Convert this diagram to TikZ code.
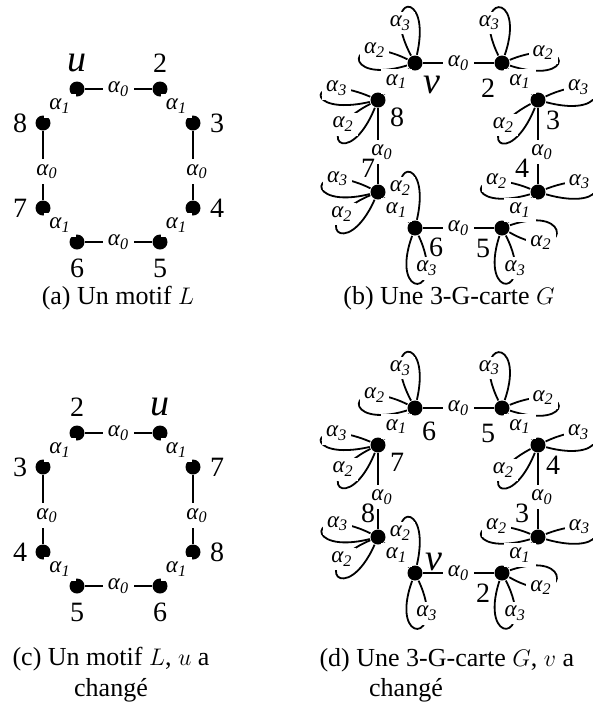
\documentclass[tikz,border=0pt]{standalone}
\usepackage{amsmath}
\usepackage{fontspec}
\setmainfont{Liberation Serif}

\newcommand\alp[1]{$\textit{α}_{\textit{#1}}$}
% boucle d'une involution sur un brin : (brin){depart}{retour}{indice}
\newcommand\boucle[4]{\draw (#1) .. controls +(#2:78) and +(#3:78) .. (#1) node[lblb, pos=.78] {\alp{#4}};}

\tikzset{
    dot/.style={circle, fill, inner sep=0pt, minimum size=7.5pt},
    lbl/.style={fill=white, inner sep=2.5pt, font=\fontsize{11.5}{13}\selectfont},
    lblb/.style={lbl, inner sep=2pt},
    vlbl/.style={xshift=2pt, yshift=-3pt},
    num/.style={inner sep=0pt, font=\fontsize{14}{16}\selectfont},
    nom/.style={inner sep=0pt, font=\fontsize{19}{21}\selectfont\itshape},
    legende/.style={align=center, font=\fontsize{13}{15.5}\selectfont}
}

\begin{document}
\begin{tikzpicture}[x=0.5pt, y=0.5pt, line width=0.9pt]
    \useasboundingbox (0,0) rectangle (593,-714);

    % motifs (a) et (c)
    \foreach \p/\dy in {a/0, c/-344} {
        \begin{scope}[shift={(0,\dy)}]
            \node[dot] (\p1) at (77,-89) {};
            \node[dot] (\p2) at (160,-89) {};
            \node[dot] (\p3) at (193,-123) {};
            \node[dot] (\p4) at (193,-208) {};
            \node[dot] (\p5) at (160,-242) {};
            \node[dot] (\p6) at (77,-242) {};
            \node[dot] (\p7) at (43,-208) {};
            \node[dot] (\p8) at (43,-123) {};
        \end{scope}
        \draw (\p1) -- node[lbl] {\alp0} (\p2);
        \draw (\p2) -- node[lbl] {\alp1} (\p3);
        \draw (\p3) -- node[lbl, vlbl] {\alp0} (\p4);
        \draw (\p4) -- node[lbl] {\alp1} (\p5);
        \draw (\p5) -- node[lbl] {\alp0} (\p6);
        \draw (\p6) -- node[lbl] {\alp1} (\p7);
        \draw (\p7) -- node[lbl, vlbl] {\alp0} (\p8);
        \draw (\p8) -- node[lbl] {\alp1} (\p1);
    }

    % 3-G-cartes (b) et (d)
    \foreach \g/\dy in {b/0, d/-345} {
        \begin{scope}[shift={(0,\dy)}]
            \node[dot] (\g1) at (415,-63) {};
            \node[dot] (\g2) at (502,-63) {};
            \node[dot] (\g3) at (538,-100) {};
            \node[dot] (\g4) at (538,-192) {};
            \node[dot] (\g5) at (502,-228) {};
            \node[dot] (\g6) at (415,-228) {};
            \node[dot] (\g7) at (378,-192) {};
            \node[dot] (\g8) at (378,-100) {};
        \end{scope}
        \boucle{\g1}{77}{118}{3}
        \boucle{\g1}{197}{154}{2}
        \boucle{\g2}{71}{116}{3}
        \boucle{\g2}{-18}{22}{2}
        \boucle{\g3}{-15}{25}{3}
        \boucle{\g3}{248}{208}{2}
        \boucle{\g4}{196}{158}{2}
        \boucle{\g4}{-16}{21}{3}
        \boucle{\g5}{19}{-30}{2}
        \boucle{\g5}{252}{297}{3}
        \boucle{\g6}{77}{118}{2}
        \boucle{\g6}{250}{295}{3}
        \boucle{\g7}{194}{154}{3}
        \boucle{\g7}{246}{203}{2}
        \boucle{\g8}{193}{157}{3}
        \boucle{\g8}{248}{207}{2}
        \draw (\g1) -- node[lbl] {\alp0} (\g2);
        \draw (\g2) -- node[lbl] {\alp1} (\g3);
        \draw (\g3) -- node[lbl, vlbl] {\alp0} (\g4);
        \draw (\g4) -- node[lbl] {\alp1} (\g5);
        \draw (\g5) -- node[lbl] {\alp0} (\g6);
        \draw (\g6) -- node[lbl] {\alp1} (\g7);
        \draw (\g7) -- node[lbl, vlbl] {\alp0} (\g8);
        \draw (\g8) -- node[lbl] {\alp1} (\g1);
    }

    % noms des brins
    \node[nom] at ([shift={(0,26)}]a1) {u};
    \node[num] at ([shift={(0,26)}]a2) {2};
    \node[num] at ([shift={(24,0)}]a3) {3};
    \node[num] at ([shift={(24,0)}]a4) {4};
    \node[num] at ([shift={(0,-26)}]a5) {5};
    \node[num] at ([shift={(0,-26)}]a6) {6};
    \node[num] at ([shift={(-23,0)}]a7) {7};
    \node[num] at ([shift={(-23,0)}]a8) {8};

    \node[num] at ([shift={(0,26)}]c1) {2};
    \node[nom] at ([shift={(0,26)}]c2) {u};
    \node[num] at ([shift={(24,0)}]c3) {7};
    \node[num] at ([shift={(24,0)}]c4) {8};
    \node[num] at ([shift={(0,-26)}]c5) {6};
    \node[num] at ([shift={(0,-26)}]c6) {5};
    \node[num] at ([shift={(-23,0)}]c7) {4};
    \node[num] at ([shift={(-23,0)}]c8) {3};

    \node[nom] at ([shift={(17,-22)}]b1) {v};
    \node[num] at ([shift={(-14,-25)}]b2) {2};
    \node[num] at ([shift={(15,-20)}]b3) {3};
    \node[num] at ([shift={(-16,24)}]b4) {4};
    \node[num] at ([shift={(-19,-20)}]b5) {5};
    \node[num] at ([shift={(21,-19)}]b6) {6};
    \node[num] at ([shift={(-10,24)}]b7) {7};
    \node[num] at ([shift={(19,-17)}]b8) {8};

    \node[num] at ([shift={(14,-23)}]d1) {6};
    \node[num] at ([shift={(-14,-25)}]d2) {5};
    \node[num] at ([shift={(15,-20)}]d3) {4};
    \node[num] at ([shift={(-16,24)}]d4) {3};
    \node[num] at ([shift={(-19,-20)}]d5) {2};
    \node[nom] at ([shift={(19,11)}]d6) {v};
    \node[num] at ([shift={(-10,24)}]d7) {8};
    \node[num] at ([shift={(19,-17)}]d8) {7};

    % legendes
    \node[legende] (lega) at (118,-298) {(a) Un motif $L$};
    \node[legende] (legb) at (449,-298) {(b) Une 3-G-carte $G$};
    \node[legende] (legc) at (111,-675) {(c) Un motif $L$, $u$ a\\changé};
    \node[legende, anchor=west] (legd) at (312,-660) {(d) Une 3-G-carte $G$, $v$ a};
    \node[legende] (legd2) at (406,-690) {changé};
\end{tikzpicture}
\end{document}
